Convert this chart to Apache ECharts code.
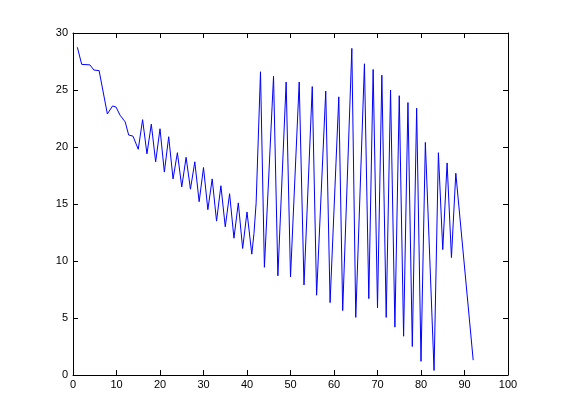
<!DOCTYPE html>
<html>
<head>
<meta charset="utf-8">
<script src="https://cdn.jsdelivr.net/npm/echarts@6/dist/echarts.min.js"></script>
<style>
html,body{margin:0;padding:0;background:#fff;}
#chart{width:561px;height:420px;}
</style>
</head>
<body>
<div id="chart"></div>
<script>
var xTicks = [0, 10, 20, 30, 40, 50, 60, 70, 80, 90, 100];
var yTicks = [0, 5, 10, 15, 20, 25, 30];

var xs = [1, 2, 3.9, 4.8, 6, 7.9, 9.1, 9.9, 10.8, 12, 12.8, 13.8, 15, 16, 17, 18, 19, 20, 21, 22, 23, 24, 25, 26, 27, 28, 29, 30, 31, 32, 33, 34, 35, 36, 37, 38, 39, 40, 41.1, 41.6, 42.1, 43.1, 44, 46.1, 47.1, 49, 50, 52, 53.1, 55, 56, 58.1, 59.1, 61.1, 62, 64.1, 65, 67, 68, 69, 70, 71, 72, 73, 74, 75, 76, 77, 78, 79, 80, 81, 83, 84, 85, 86, 87, 88, 92];
var ys = [28.75, 27.25, 27.2, 26.75, 26.7, 22.9, 23.6, 23.5, 22.8, 22.2, 21.05, 20.95, 19.8, 22.4, 19.4, 22.0, 18.7, 21.6, 17.8, 20.9, 17.2, 19.5, 16.5, 19.1, 16.3, 18.7, 15.2, 18.2, 14.5, 17.2, 13.5, 16.6, 13.0, 15.9, 12.0, 15.1, 11.1, 14.3, 10.6, 12.4, 15.1, 26.6, 9.45, 26.2, 8.7, 25.7, 8.6, 25.7, 7.9, 25.3, 7.0, 24.9, 6.35, 24.4, 5.65, 28.65, 5.05, 27.3, 6.7, 26.8, 5.9, 26.3, 5.05, 25.0, 4.2, 24.5, 3.4, 23.9, 2.5, 23.4, 1.2, 20.4, 0.4, 19.5, 11.0, 18.6, 10.3, 17.7, 1.3];

var data = xs.map(function (x, i) { return [x, ys[i]]; });

var font = 'Liberation Sans, Arial, Helvetica, sans-serif';
function axisCommon(min, max, interval, showLabel, pos, margin) {
  return {
    type: 'value', min: min, max: max, interval: interval, position: pos,
    axisLine: { show: true, onZero: false, lineStyle: { color: '#000', width: 1 } },
    axisTick: { show: true, inside: true, length: 5, lineStyle: { color: '#000', width: 1 } },
    axisLabel: { show: showLabel, color: '#000', fontSize: 11, fontFamily: font, margin: margin },
    splitLine: { show: false }
  };
}

var chart = echarts.init(document.getElementById('chart'), null, { renderer: 'canvas' });
chart.setOption({
  animation: false,
  backgroundColor: '#fff',
  grid: { left: 73, right: 53, top: 33, bottom: 45, containLabel: false },
  xAxis: [
    axisCommon(xTicks[0], xTicks[xTicks.length - 1], xTicks[1] - xTicks[0], true, 'bottom', 4),
    axisCommon(xTicks[0], xTicks[xTicks.length - 1], xTicks[1] - xTicks[0], false, 'top', 4)
  ],
  yAxis: [
    axisCommon(yTicks[0], yTicks[yTicks.length - 1], yTicks[1] - yTicks[0], true, 'left', 5),
    axisCommon(yTicks[0], yTicks[yTicks.length - 1], yTicks[1] - yTicks[0], false, 'right', 5)
  ],
  series: [{
    type: 'line',
    xAxisIndex: 0,
    yAxisIndex: 0,
    data: data,
    showSymbol: false,
    symbol: 'none',
    lineStyle: { color: '#0000ff', width: 1 },
    itemStyle: { color: '#0000ff' }
  }]
});
</script>
</body>
</html>
